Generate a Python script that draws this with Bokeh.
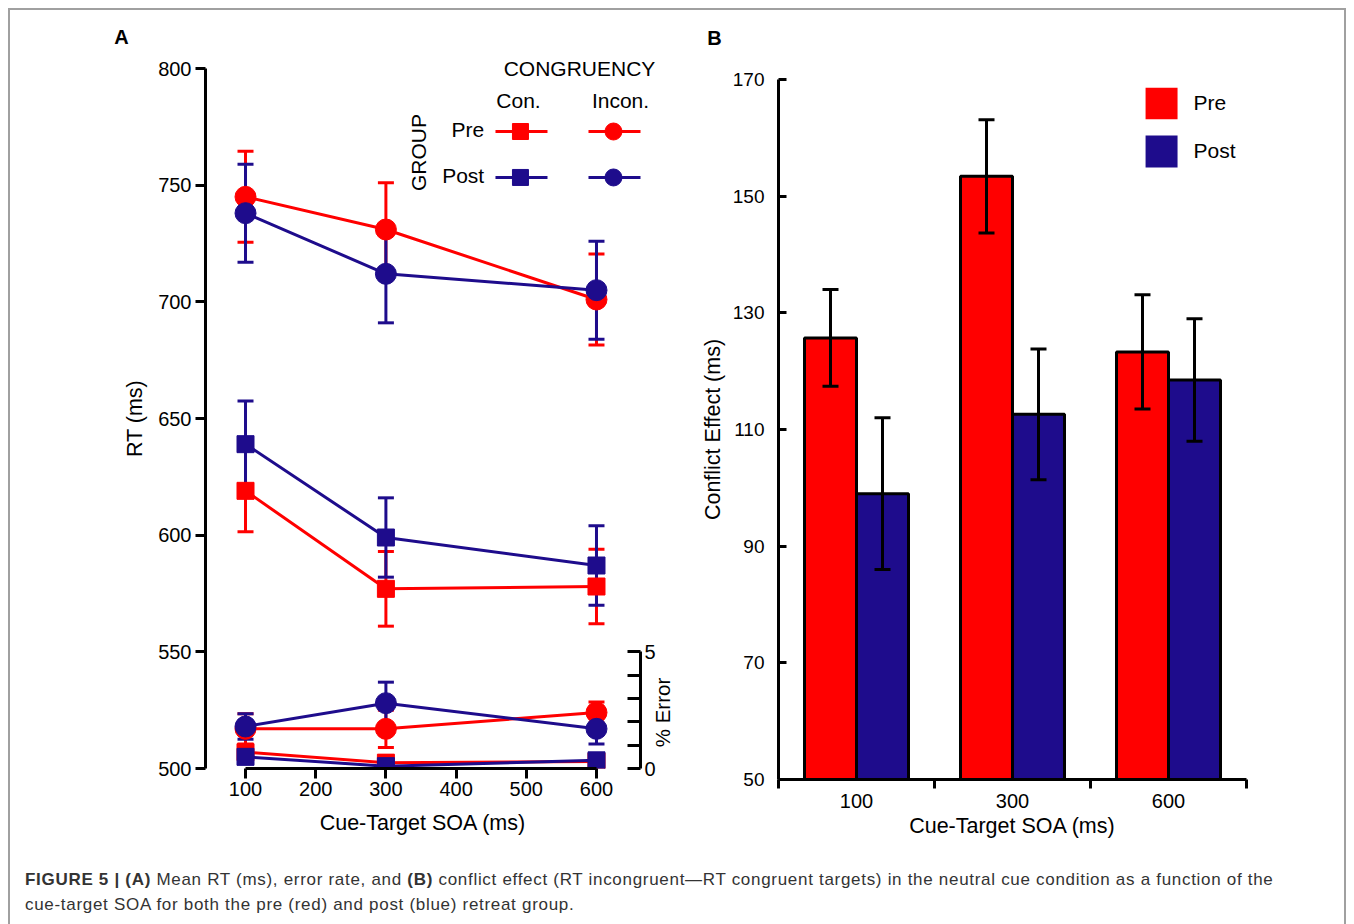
import math
from bokeh.plotting import figure
from bokeh.models import (Range1d, LinearAxis, FixedTicker, Whisker, ColumnDataSource,
                          TeeHead, Div, Spacer)
from bokeh.layouts import row, column
from bokeh.embed import file_html
from bokeh.resources import INLINE
from bokeh.core.properties import value

# ---------------- data ----------------
soa = [100, 300, 600]

rt_pre_con = [619, 577, 578]
rt_pre_con_err = [17.5, 16, 16]
rt_post_con = [639, 599, 587]
rt_post_con_err = [18.5, 17, 17]
rt_pre_incon = [745, 731, 701]
rt_pre_incon_err = [19.5, 20, 19.5]
rt_post_incon = [738, 712, 705]
rt_post_incon_err = [21, 21, 21]

pct_pre_con = [0.7, 0.25, 0.3]
pct_pre_con_err = [0.25, 0.3, 0.2]
pct_post_con = [0.5, 0.1, 0.35]
pct_post_con_err = [0.3, 0.2, 0.2]
pct_pre_incon = [1.7, 1.7, 2.4]
pct_pre_incon_err = [0.65, 0.8, 0.45]
pct_post_incon = [1.8, 2.8, 1.7]
pct_post_incon_err = [0.55, 0.9, 0.65]

soa_labels = ["100", "300", "600"]
conflict_pre = [125.7, 153.4, 123.3]
conflict_pre_err = [8.3, 9.7, 9.8]
conflict_post = [99.0, 112.6, 118.5]
conflict_post_err = [13.0, 11.2, 10.5]

rt_ticks = [500, 550, 600, 650, 700, 750, 800]
soa_ticks = [100, 200, 300, 400, 500, 600]
pct_ticks = [0, 1, 2, 3, 4, 5]
conflict_ticks = [50, 70, 90, 110, 130, 150, 170]

RED = "#ff0000"
BLUE = "#1e0c8c"
FONT = "Liberation Sans"


def no_title(p):
    try:
        p.title = None
    except Exception:
        p.title.visible = False


def style_axis(ax, size="20px"):
    ax.axis_line_width = 3
    ax.axis_line_color = "black"
    ax.major_tick_line_width = 3
    ax.major_tick_line_color = "black"
    ax.minor_tick_line_color = None
    ax.major_label_text_font = FONT
    ax.major_label_text_font_size = size
    ax.major_label_text_color = "black"
    ax.axis_label_text_font = FONT
    ax.axis_label_text_font_style = "normal"
    ax.axis_label_text_color = "black"
    ax.axis_label_text_font_size = "21.5px"


def free_text(p, x, y, txt, size="21px", align="center", angle=0.0, bold=False, rng="default"):
    r = p.text(x=[x], y=[y], text=[txt], text_align=align, text_baseline="middle",
               angle=angle, text_font=value(FONT), text_font_size=size,
               text_font_style="bold" if bold else "normal", text_color="black",
               y_range_name=rng)
    r.level = "overlay"
    return r


# ---------------- panel A ----------------
pA = figure(width=680, height=850, x_range=Range1d(43, 662.7), y_range=Range1d(500, 800),
            output_backend="svg", toolbar_location=None,
            min_border_left=195, min_border_top=58, min_border_bottom=92, min_border_right=50)
no_title(pA)
pA.extra_y_ranges = {"err": Range1d(0, 30)}
pA.grid.visible = False
pA.outline_line_color = None

ya = pA.yaxis[0]
style_axis(ya)
ya.ticker = FixedTicker(ticks=rt_ticks)
ya.bounds = (500, 800)
ya.major_tick_out = 10
ya.major_tick_in = 0
ya.major_label_standoff = 4
ya.axis_label = "RT (ms)"
ya.axis_label_standoff = 8

xa = pA.xaxis[0]
style_axis(xa)
xa.ticker = FixedTicker(ticks=soa_ticks)
xa.bounds = (100, 600)
xa.major_tick_out = 10
xa.major_tick_in = 0
xa.major_label_standoff = 3
xa.axis_label = "Cue-Target SOA (ms)"
xa.axis_label_standoff = 12

ra = LinearAxis(y_range_name="err", ticker=FixedTicker(ticks=pct_ticks), bounds=(0, 5),
                major_label_overrides={1: "", 2: "", 3: "", 4: ""})
style_axis(ra)
ra.major_tick_in = 13
ra.major_tick_out = 0
ra.major_label_standoff = 4
pA.add_layout(ra, "right")
free_text(pA, 694, 2.4, "% Error", size="20.5px", angle=math.pi / 2, rng="err")


def series(p, xs, ys, errs, color, marker, size, rng="default"):
    src = ColumnDataSource(dict(x=xs, y=ys,
                                lo=[a - b for a, b in zip(ys, errs)],
                                hi=[a + b for a, b in zip(ys, errs)]))
    w = Whisker(source=src, base="x", lower="lo", upper="hi", dimension="height",
                line_color=color, line_width=3, y_range_name=rng,
                lower_head=TeeHead(size=16, line_color=color, line_width=3),
                upper_head=TeeHead(size=16, line_color=color, line_width=3))
    p.add_layout(w)
    p.line("x", "y", source=src, line_color=color, line_width=3, y_range_name=rng)
    p.scatter("x", "y", source=src, marker=marker, size=size, fill_color=color,
              line_color=color, y_range_name=rng)


# RT
series(pA, soa, rt_pre_con, rt_pre_con_err, RED, "square", 17)
series(pA, soa, rt_post_con, rt_post_con_err, BLUE, "square", 17)
series(pA, soa, rt_pre_incon, rt_pre_incon_err, RED, "circle", 21)
series(pA, soa, rt_post_incon, rt_post_incon_err, BLUE, "circle", 21)
# error rates
series(pA, soa, pct_pre_incon, pct_pre_incon_err, RED, "circle", 21, "err")
series(pA, soa, pct_post_incon, pct_post_incon_err, BLUE, "circle", 21, "err")
series(pA, soa, pct_pre_con, pct_pre_con_err, RED, "square", 17, "err")
series(pA, soa, pct_post_con, pct_post_con_err, BLUE, "square", 17, "err")

# legend (group x congruency)
leg_rows = [("Pre", RED, 773.0, 773.9), ("Post", BLUE, 753.3, 754.0)]
for name, col, yl, yt in leg_rows:
    r1 = pA.line([456.1, 530.2], [yl, yl], line_color=col, line_width=3)
    r2 = pA.scatter([491.7], [yl], marker="square", size=16, fill_color=col, line_color=col)
    r3 = pA.line([588.6, 662.7], [yl, yl], line_color=col, line_width=3)
    r4 = pA.scatter([624.2], [yl], marker="circle", size=17, fill_color=col, line_color=col)
    for r in (r1, r2, r3, r4):
        r.level = "overlay"
    free_text(pA, 440, yt, name, align="right")
free_text(pA, 575.8, 800, "CONGRUENCY")
free_text(pA, 488.9, 786.3, "Con.")
free_text(pA, 634.2, 786.3, "Incon.")
free_text(pA, 346.4, 764, "GROUP", angle=math.pi / 2)
free_text(pA, -76.6, 813.3, "A", size="20px", bold=True)

# ---------------- panel B ----------------
pB = figure(width=654, height=839, x_range=Range1d(0, 3), y_range=Range1d(50, 170),
            output_backend="svg", toolbar_location=None,
            min_border_left=88, min_border_top=58, min_border_bottom=81, min_border_right=98)
no_title(pB)
pB.grid.visible = False
pB.outline_line_color = None

centers = [i + 0.5 for i in range(len(soa_labels))]
pre_x = [c - 1 / 6 for c in centers]
post_x = [c + 1 / 6 for c in centers]
pB.vbar(x=pre_x, width=1 / 3, bottom=50, top=conflict_pre, fill_color=RED,
        line_color="black", line_width=3)
pB.vbar(x=post_x, width=1 / 3, bottom=50, top=conflict_post, fill_color=BLUE,
        line_color="black", line_width=3)
for xs, vals, errs in ((pre_x, conflict_pre, conflict_pre_err), (post_x, conflict_post, conflict_post_err)):
    src = ColumnDataSource(dict(x=xs, lo=[v - e for v, e in zip(vals, errs)],
                                hi=[v + e for v, e in zip(vals, errs)]))
    pB.add_layout(Whisker(source=src, base="x", lower="lo", upper="hi", dimension="height",
                          line_color="black", line_width=3, level="annotation",
                          lower_head=TeeHead(size=16, line_color="black", line_width=3),
                          upper_head=TeeHead(size=16, line_color="black", line_width=3)))

yb = pB.yaxis[0]
style_axis(yb, "19px")
yb.ticker = FixedTicker(ticks=conflict_ticks)
yb.major_tick_in = 8
yb.major_tick_out = 0
yb.major_label_standoff = 14
yb.axis_label = "Conflict Effect (ms)"
yb.axis_label_standoff = 5

xb = pB.xaxis[0]
style_axis(xb)
xb.ticker = FixedTicker(ticks=centers, minor_ticks=[0, 1, 2, 3])
xb.major_label_overrides = {c: lab for c, lab in zip(centers, soa_labels)}
xb.major_tick_line_color = None
xb.major_tick_out = 0
xb.major_tick_in = 0
xb.minor_tick_line_color = "black"
xb.minor_tick_line_width = 3
xb.minor_tick_out = 9
xb.minor_tick_in = 0
xb.major_label_standoff = 5
xb.axis_label = "Cue-Target SOA (ms)"
xb.axis_label_standoff = 3

# legend B
pB.quad(left=[2.353, 2.353], right=[2.558, 2.558], top=[168.6, 160.4], bottom=[163.2, 154.9],
        fill_color=[RED, BLUE], line_color=None)
free_text(pB, 2.66, 166.1, "Pre", align="left")
free_text(pB, 2.66, 157.85, "Post", align="left")
free_text(pB, -0.41, 177.2, "B", size="20px", bold=True)

# ---------------- caption ----------------
caption = Div(
    text=("<b>FIGURE 5 | (A)</b> Mean RT (ms), error rate, and <b>(B)</b> conflict effect "
          "(RT incongruent\u2014RT congruent targets) in the neutral cue condition as a function of the<br>"
          "cue-target SOA for both the pre (red) and post (blue) retreat group."),
    width=1334, height=62,
    styles={"font-family": "'Liberation Sans', sans-serif",
            "font-size": "17px", "letter-spacing": "0.7px", "line-height": "25px",
            "padding-left": "10px", "padding-top": "2px", "color": "#333333",
            "box-sizing": "border-box"})

colB = column(Spacer(width=654, height=11), pB)
layout = column(row(pA, colB), caption, width=1338,
                styles={"border": "2px solid #a0a0a0", "margin-left": "8px", "margin-top": "8px",
                        "width": "1338px", "box-sizing": "border-box"})

open("out.html", "w").write(file_html(layout, INLINE))
